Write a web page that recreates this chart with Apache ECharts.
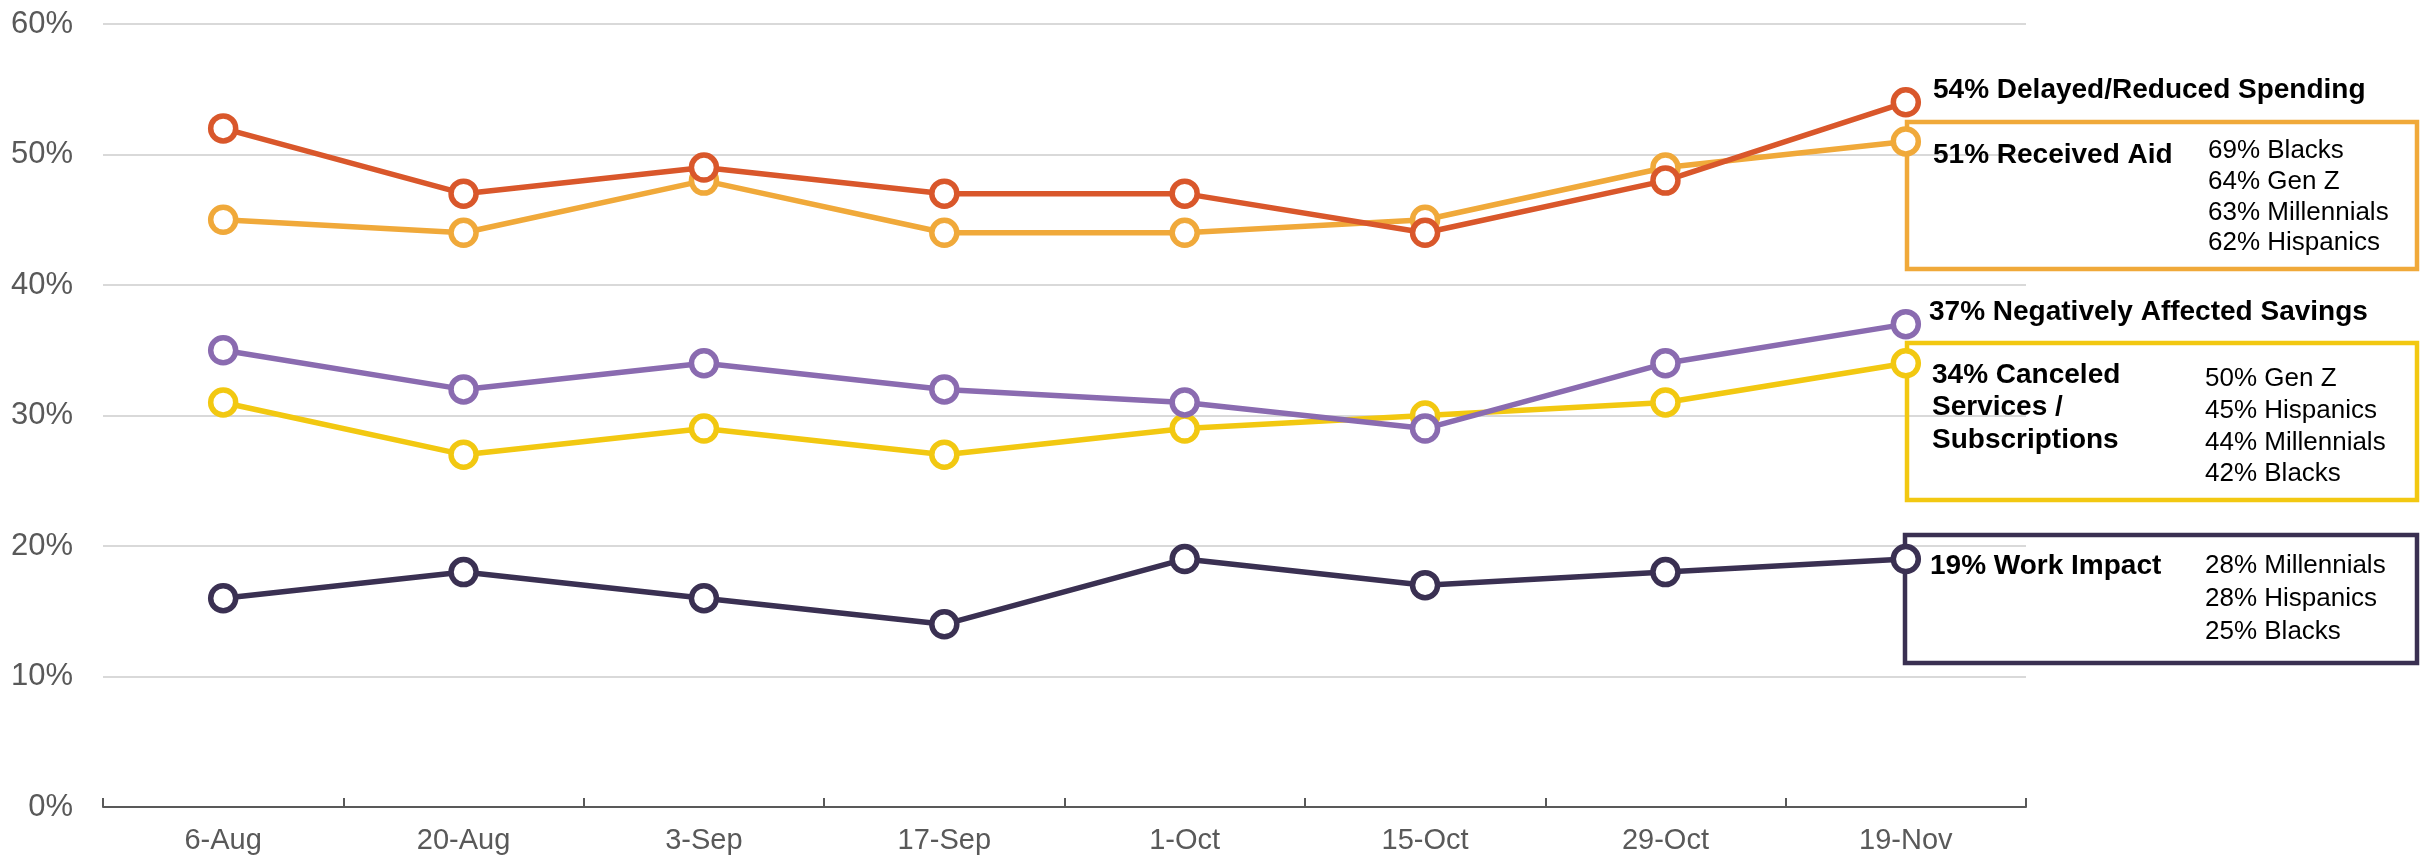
<!DOCTYPE html>
<html>
<head>
<meta charset="utf-8">
<title>Consumer impact tracker</title>
<script src="https://cdn.jsdelivr.net/npm/echarts@6/dist/echarts.min.js"></script>
<style>
    html, body { margin: 0; padding: 0; background: #fff; }
    #chart { width: 2420px; height: 857px; }
</style>
</head>
<body>
<div id="chart"></div>
<script>
// survey waves
const dates = ['6-Aug', '20-Aug', '3-Sep', '17-Sep', '1-Oct', '15-Oct', '29-Oct', '19-Nov']

// % of respondents per wave
const delayedSpending = [52, 47, 49, 47, 47, 44, 48, 54]
const receivedAid = [45, 44, 48, 44, 44, 45, 49, 51]
const affectedSavings = [35, 32, 34, 32, 31, 29, 34, 37]
const canceledServices = [31, 27, 29, 27, 29, 30, 31, 34]
const workImpact = [16, 18, 16, 14, 19, 17, 18, 19]

// breakdowns shown in the boxes on the right
const aidGroups = ['69% Blacks', '64% Gen Z', '63% Millennials', '62% Hispanics']
const canceledGroups = ['50% Gen Z', '45% Hispanics', '44% Millennials', '42% Blacks']
const workGroups = ['28% Millennials', '28% Hispanics', '25% Blacks']

const yTicks = [0, 10, 20, 30, 40, 50, 60]

const FONT = '"Liberation Sans", Arial, sans-serif'
const last = arr => arr[arr.length - 1]

const chart = echarts.init(document.getElementById('chart'))

function makeSeries(name, data, color) {
    return {
        name: name,
        type: 'line',
        data: data,
        symbol: 'circle',
        symbolSize: 25,
        lineStyle: { color: color, width: 5.5 },
        itemStyle: { color: '#fff', borderColor: color, borderWidth: 5.5 },
        z: 5,
        animation: false,
    }
}

// text helpers for the annotations
function boldText(text, x, y) {
    return {
        type: 'text', z: 10,
        style: { text: text, x: x, y: y, font: 'bold 28px ' + FONT, fill: '#000',
            align: 'left', verticalAlign: 'middle', textAlign: 'left', textVerticalAlign: 'middle' }
    }
}
function plainText(text, x, y) {
    return {
        type: 'text', z: 10,
        style: { text: text, x: x, y: y, font: '26px ' + FONT, fill: '#000',
            align: 'left', verticalAlign: 'middle', textAlign: 'left', textVerticalAlign: 'middle' }
    }
}
function box(x, y, w, h, color) {
    return {
        type: 'rect', z: 1,
        shape: { x: x, y: y, width: w, height: h },
        style: { fill: 'none', stroke: color, lineWidth: 4.5 }
    }
}

const graphics = [
    boldText(last(delayedSpending) + '% Delayed/Reduced Spending', 1933, 90),
    box(1907, 122, 510, 147, '#F0A93A'),
    boldText(last(receivedAid) + '% Received Aid', 1933, 155),
    ...aidGroups.map((t, i) => plainText(t, 2208, 151 + i * 30.7)),

    boldText(last(affectedSavings) + '% Negatively Affected Savings', 1929, 312),
    box(1907, 343, 510, 157, '#F2C811'),
    boldText(last(canceledServices) + '% Canceled', 1932, 375),
    boldText('Services /', 1932, 407.5),
    boldText('Subscriptions', 1932, 440),
    ...canceledGroups.map((t, i) => plainText(t, 2205, 379 + i * 31.7)),

    box(1905, 535, 512, 128, '#3A3052'),
    boldText(last(workImpact) + '% Work Impact', 1930, 566),
    ...workGroups.map((t, i) => plainText(t, 2205, 566 + i * 33)),
]

const option = {
    animation: false,
    textStyle: { fontFamily: FONT },
    grid: { left: 103, right: 394, top: 24, bottom: 50, outerBoundsMode: 'none', containLabel: false },
    xAxis: {
        type: 'category',
        data: dates,
        boundaryGap: true,
        axisLine: { lineStyle: { color: '#595959', width: 2 } },
        axisTick: { show: true, inside: true, length: 9, alignWithLabel: false, lineStyle: { color: '#595959', width: 2 } },
        axisLabel: { color: '#595959', fontSize: 29, margin: 19, fontFamily: FONT },
        splitLine: { show: false },
    },
    yAxis: {
        type: 'value',
        min: yTicks[0],
        max: yTicks[yTicks.length - 1],
        interval: 10,
        axisLine: { show: false },
        axisTick: { show: false },
        axisLabel: { color: '#595959', fontSize: 31, margin: 30, formatter: '{value}%', fontFamily: FONT },
        splitLine: { lineStyle: { color: '#D9D9D9', width: 2 } },
    },
    series: [
        makeSeries('Work Impact', workImpact, '#3A3052'),
        makeSeries('Canceled Services / Subscriptions', canceledServices, '#F2C811'),
        makeSeries('Negatively Affected Savings', affectedSavings, '#8A6BB0'),
        makeSeries('Received Aid', receivedAid, '#F0A93A'),
        makeSeries('Delayed/Reduced Spending', delayedSpending, '#D9572B'),
    ],
    graphic: graphics,
}

chart.setOption(option)
</script>
</body>
</html>
